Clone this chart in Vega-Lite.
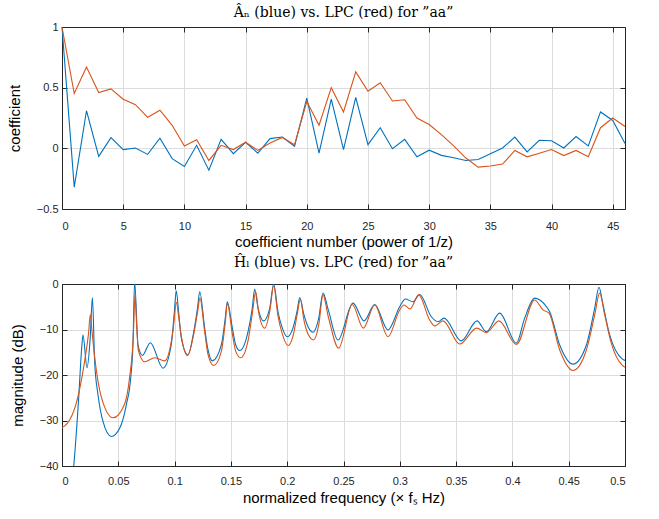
{
  "$schema": "https://vega.github.io/schema/vega-lite/v6.json",
  "padding": {"left": 7, "top": 6, "right": 5, "bottom": 5},
  "background": "white",
  "config": {
    "view": {"stroke": null},
    "axis": {
      "labelFont": "Liberation Sans", "labelFontSize": 11, "labelColor": "#262626",
      "titleFont": "Liberation Sans", "titleFontSize": 15, "titleFontWeight": "normal", "titleColor": "#000000",
      "domainColor": "#262626", "tickColor": "#262626", "gridColor": "#dcdcdc", "gridOpacity": 1,
      "tickSize": -5, "labelPadding": 9
    },
    "title": {"font": "DejaVu Serif", "fontSize": 14, "fontWeight": "normal", "color": "#000000"}
  },
  "spacing": 7,
  "vconcat": [
    {
      "width": 563, "height": 182,
      "title": {"text": "Â\u2099 (blue) vs. LPC (red) for \u201daa\u201d", "offset": 1},
      "data": {"values": [
        {"n":0,"blue":1.0,"red":1.0},{"n":1,"blue":-0.32,"red":0.452},{"n":2,"blue":0.31,"red":0.67},{"n":3,"blue":-0.066,"red":0.46},
        {"n":4,"blue":0.088,"red":0.49},{"n":5,"blue":-0.01,"red":0.405},{"n":6,"blue":0.003,"red":0.36},{"n":7,"blue":-0.05,"red":0.256},
        {"n":8,"blue":0.083,"red":0.314},{"n":9,"blue":-0.085,"red":0.19},{"n":10,"blue":-0.15,"red":0.02},{"n":11,"blue":0.025,"red":0.07},
        {"n":12,"blue":-0.18,"red":-0.1},{"n":13,"blue":0.074,"red":0.025},{"n":14,"blue":-0.044,"red":-0.01},{"n":15,"blue":0.05,"red":0.05},
        {"n":16,"blue":-0.04,"red":-0.017},{"n":17,"blue":0.08,"red":0.044},{"n":18,"blue":0.093,"red":0.09},{"n":19,"blue":0.017,"red":0.03},
        {"n":20,"blue":0.413,"red":0.386},{"n":21,"blue":-0.04,"red":0.19},{"n":22,"blue":0.405,"red":0.5},{"n":23,"blue":-0.01,"red":0.3},
        {"n":24,"blue":0.42,"red":0.63},{"n":25,"blue":0.03,"red":0.47},{"n":26,"blue":0.17,"red":0.54},{"n":27,"blue":-0.003,"red":0.39},
        {"n":28,"blue":0.074,"red":0.4},{"n":29,"blue":-0.07,"red":0.25},{"n":30,"blue":-0.015,"red":0.196},{"n":31,"blue":-0.058,"red":0.113},
        {"n":32,"blue":-0.077,"red":0.02},{"n":33,"blue":-0.1,"red":-0.08},{"n":34,"blue":-0.092,"red":-0.155},{"n":35,"blue":-0.045,"red":-0.145},
        {"n":36,"blue":0.003,"red":-0.13},{"n":37,"blue":0.093,"red":-0.017},{"n":38,"blue":-0.03,"red":-0.07},{"n":39,"blue":0.066,"red":-0.04},
        {"n":40,"blue":0.063,"red":-0.01},{"n":41,"blue":0.003,"red":-0.06},{"n":42,"blue":0.097,"red":-0.017},{"n":43,"blue":0.02,"red":-0.07},
        {"n":44,"blue":0.3,"red":0.17},{"n":45,"blue":0.23,"red":0.25},{"n":46,"blue":0.04,"red":0.18}
      ]},
      "layer": [
        {
          "mark": {"type": "line", "color": "#0072BD", "strokeWidth": 1.1},
          "encoding": {
            "x": {"field": "n", "type": "quantitative", "scale": {"domain": [0, 46], "nice": false},
                  "axis": {"orient": "bottom", "values": [0,5,10,15,20,25,30,35,40,45], "title": "coefficient number (power of 1/z)", "labelPadding": 16, "titlePadding": 3}},
            "y": {"field": "blue", "type": "quantitative", "scale": {"domain": [-0.5, 1], "nice": false},
                  "axis": {"orient": "left", "values": [-0.5, 0, 0.5, 1], "format": "~g", "title": "coefficient", "titlePadding": 14}}
          }
        },
        {
          "mark": {"type": "line", "color": "#D95319", "strokeWidth": 1.1},
          "encoding": {
            "x": {"field": "n", "type": "quantitative", "scale": {"domain": [0, 46], "nice": false},
                  "axis": {"orient": "top", "values": [0,5,10,15,20,25,30,35,40,45], "labels": false, "grid": false, "title": null}},
            "y": {"field": "red", "type": "quantitative", "scale": {"domain": [-0.5, 1], "nice": false},
                  "axis": {"orient": "right", "values": [-0.5, 0, 0.5, 1], "labels": false, "grid": false, "title": null}}
          }
        }
      ],
      "resolve": {"axis": {"x": "independent", "y": "independent"}}
    },
    {
      "width": 563, "height": 182,
      "title": {"text": "Ĥ\u2097 (blue) vs. LPC (red) for \u201daa\u201d", "offset": 8},
      "layer": [
        {
          "data": {"values": [
            {"f":0,"db":-66},{"f":0.005,"db":-52},{"f":0.0104,"db":-40.1},{"f":0.0148,"db":-25.1},{"f":0.0175,"db":-14},{"f":0.01865,"db":-11.2},
            {"f":0.0222,"db":-18.4},{"f":0.025,"db":-12},{"f":0.027,"db":-3.0},{"f":0.029,"db":-17.1},{"f":0.032,"db":-24.4},{"f":0.0364,"db":-30.2},
            {"f":0.0438,"db":-33.5},{"f":0.0512,"db":-31.7},{"f":0.0571,"db":-26.6},{"f":0.061,"db":-20.7},{"f":0.063,"db":-13.4},{"f":0.0645,"db":0.5},
            {"f":0.0675,"db":-13.4},{"f":0.0714,"db":-15.7},{"f":0.0784,"db":-12.9},{"f":0.0897,"db":-18.5},{"f":0.097,"db":-13.4},{"f":0.0995,"db":-7},
            {"f":0.1015,"db":-1.5},{"f":0.1035,"db":-6},{"f":0.106,"db":-11.9},{"f":0.1119,"db":-15.6},{"f":0.117,"db":-10.5},{"f":0.1205,"db":-5},
            {"f":0.1223,"db":-1.7},{"f":0.1267,"db":-9.7},{"f":0.1297,"db":-14.5},{"f":0.1335,"db":-16.9},{"f":0.1415,"db":-13.4},{"f":0.145,"db":-7.5},
            {"f":0.1468,"db":-3.9},{"f":0.1513,"db":-9.7},{"f":0.1543,"db":-13.4},{"f":0.1578,"db":-14.6},{"f":0.1652,"db":-10.5},{"f":0.169,"db":-5.3},
            {"f":0.1711,"db":-1.1},{"f":0.1741,"db":-5.3},{"f":0.1791,"db":-8.1},{"f":0.1845,"db":-5.3},{"f":0.188,"db":0},{"f":0.1918,"db":-6.1},
            {"f":0.1957,"db":-9.7},{"f":0.2001,"db":-11.6},{"f":0.2051,"db":-9.7},{"f":0.209,"db":-5.7},{"f":0.2111,"db":-3.0},{"f":0.2149,"db":-6.8},
            {"f":0.2185,"db":-9.4},{"f":0.2229,"db":-10.6},{"f":0.228,"db":-7.5},{"f":0.2318,"db":-2.0},{"f":0.2365,"db":-5.7},{"f":0.2451,"db":-12.3},
            {"f":0.2584,"db":-4.2},{"f":0.2682,"db":-8.1},{"f":0.2777,"db":-4.5},{"f":0.2895,"db":-10.1},{"f":0.2999,"db":-5.0},{"f":0.3049,"db":-3.3},
            {"f":0.3117,"db":-3.9},{"f":0.3177,"db":-2.3},{"f":0.328,"db":-7.2},{"f":0.334,"db":-8.3},{"f":0.3393,"db":-7.5},{"f":0.3546,"db":-12.5},
            {"f":0.3686,"db":-8.1},{"f":0.3768,"db":-10.5},{"f":0.3887,"db":-6.4},{"f":0.4035,"db":-13.0},{"f":0.4109,"db":-7.5},{"f":0.4198,"db":-3.1},
            {"f":0.4287,"db":-4.5},{"f":0.4331,"db":-6.1},{"f":0.442,"db":-13.4},{"f":0.4538,"db":-17.6},{"f":0.4657,"db":-13.4},{"f":0.4731,"db":-5.3},
            {"f":0.4769,"db":-0.7},{"f":0.4805,"db":-4.6},{"f":0.4864,"db":-11.2},{"f":0.4977,"db":-16.5},{"f":0.5,"db":-16.8}
          ]},
          "mark": {"type": "line", "color": "#0072BD", "strokeWidth": 1.1, "interpolate": "monotone", "clip": true},
          "encoding": {
            "x": {"field": "f", "type": "quantitative", "scale": {"domain": [0, 0.5], "nice": false},
                  "axis": {"orient": "bottom", "values": [0,0.05,0.1,0.15,0.2,0.25,0.3,0.35,0.4,0.45,0.5], "format": "~g", "title": "normalized frequency (× f\u209b Hz)", "labelPadding": 14, "titlePadding": 4}},
            "y": {"field": "db", "type": "quantitative", "scale": {"domain": [-40, 0], "nice": false},
                  "axis": {"orient": "left", "values": [-40,-30,-20,-10,0], "title": "magnitude (dB)", "titlePadding": 14}}
          }
        },
        {
          "data": {"values": [
            {"f":0,"db":-31.5},{"f":0.0018,"db":-31.3},{"f":0.0148,"db":-24.1},{"f":0.0202,"db":-16.8},{"f":0.0235,"db":-11},{"f":0.0252,"db":-6.7},
            {"f":0.0265,"db":-10},{"f":0.029,"db":-16.0},{"f":0.0349,"db":-24.8},{"f":0.0453,"db":-29.4},{"f":0.0557,"db":-26.3},{"f":0.0601,"db":-20.4},
            {"f":0.0633,"db":-11.6},{"f":0.0648,"db":-2.5},{"f":0.0663,"db":-9},{"f":0.0678,"db":-14.6},{"f":0.0734,"db":-17.1},{"f":0.0823,"db":-16.2},
            {"f":0.0912,"db":-16.9},{"f":0.0986,"db":-10.2},{"f":0.1016,"db":-4.0},{"f":0.1035,"db":-7},{"f":0.106,"db":-11.5},{"f":0.1113,"db":-15.7},
            {"f":0.117,"db":-11},{"f":0.1205,"db":-6},{"f":0.1225,"db":-3.1},{"f":0.1267,"db":-10.5},{"f":0.1297,"db":-15.5},{"f":0.1347,"db":-17.9},
            {"f":0.1415,"db":-14.8},{"f":0.145,"db":-8.5},{"f":0.1468,"db":-4.3},{"f":0.1513,"db":-11},{"f":0.1543,"db":-14.8},{"f":0.1587,"db":-16.2},
            {"f":0.1652,"db":-12.5},{"f":0.169,"db":-6.5},{"f":0.172,"db":-1.7},{"f":0.1745,"db":-6},{"f":0.18,"db":-9.7},{"f":0.1845,"db":-6},
            {"f":0.188,"db":-0.4},{"f":0.1918,"db":-7},{"f":0.1957,"db":-11},{"f":0.2007,"db":-13.5},{"f":0.2051,"db":-11.5},{"f":0.209,"db":-6.5},
            {"f":0.2117,"db":-3.3},{"f":0.2149,"db":-8},{"f":0.2185,"db":-11},{"f":0.2235,"db":-12.3},{"f":0.228,"db":-9},{"f":0.2318,"db":-2.4},
            {"f":0.2365,"db":-7.2},{"f":0.2457,"db":-14.1},{"f":0.2578,"db":-4.5},{"f":0.2676,"db":-9.7},{"f":0.2777,"db":-4.6},{"f":0.2895,"db":-11.6},
            {"f":0.2999,"db":-5.7},{"f":0.3037,"db":-4.6},{"f":0.309,"db":-5.5},{"f":0.3168,"db":-2.4},{"f":0.3265,"db":-7.9},{"f":0.331,"db":-9.2},
            {"f":0.3384,"db":-8.1},{"f":0.3532,"db":-13.2},{"f":0.3683,"db":-9.7},{"f":0.3768,"db":-10.7},{"f":0.3881,"db":-8.1},{"f":0.4035,"db":-13.3},
            {"f":0.4198,"db":-3.5},{"f":0.4272,"db":-5.7},{"f":0.4325,"db":-6.4},{"f":0.442,"db":-14.5},{"f":0.4538,"db":-19.0},{"f":0.4657,"db":-14.5},
            {"f":0.4731,"db":-6.8},{"f":0.4775,"db":-2.0},{"f":0.482,"db":-6.8},{"f":0.4878,"db":-13.0},{"f":0.4977,"db":-17.9},{"f":0.5,"db":-18.3}
          ]},
          "mark": {"type": "line", "color": "#D95319", "strokeWidth": 1.1, "interpolate": "monotone", "clip": true},
          "encoding": {
            "x": {"field": "f", "type": "quantitative", "scale": {"domain": [0, 0.5], "nice": false},
                  "axis": {"orient": "top", "values": [0,0.05,0.1,0.15,0.2,0.25,0.3,0.35,0.4,0.45,0.5], "labels": false, "grid": false, "title": null}},
            "y": {"field": "db", "type": "quantitative", "scale": {"domain": [-40, 0], "nice": false},
                  "axis": {"orient": "right", "values": [-40,-30,-20,-10,0], "labels": false, "grid": false, "title": null}}
          }
        }
      ],
      "resolve": {"axis": {"x": "independent", "y": "independent"}}
    }
  ]
}
